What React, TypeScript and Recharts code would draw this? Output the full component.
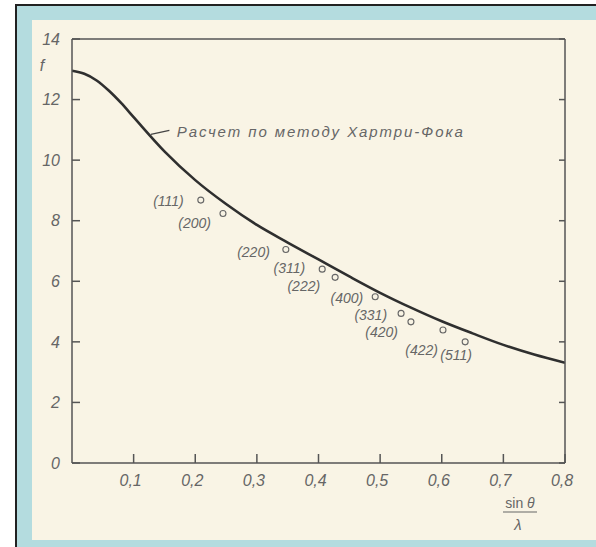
import React from 'react';
import {
  ComposedChart,
  Line,
  Scatter,
  XAxis,
  YAxis,
  ReferenceLine,
  ReferenceDot,
} from 'recharts';

// Hartree-Fock curve
const CURVE_S = [0, 0.02, 0.04, 0.06, 0.08, 0.1, 0.15, 0.2, 0.25, 0.3, 0.35, 0.4, 0.45, 0.5, 0.55, 0.6, 0.65, 0.7, 0.75, 0.8];
const CURVE_F = [12.95, 12.85, 12.63, 12.29, 11.88, 11.42, 10.29, 9.34, 8.55, 7.86, 7.28, 6.72, 6.16, 5.62, 5.13, 4.68, 4.28, 3.9, 3.58, 3.31];

// measured reflections
const HKL = ['(111)', '(200)', '(220)', '(311)', '(222)', '(400)', '(331)', '(420)', '(422)', '(511)'];
const POINT_S = [0.209, 0.245, 0.347, 0.406, 0.427, 0.492, 0.534, 0.55, 0.602, 0.638];
const POINT_F = [8.68, 8.24, 7.05, 6.4, 6.13, 5.49, 4.94, 4.66, 4.39, 4.0];

const X_TICKS = [0.1, 0.2, 0.3, 0.4, 0.5, 0.6, 0.7, 0.8];
const Y_TICKS = [0, 2, 4, 6, 8, 10, 12, 14];

const CURVE_LABEL = 'Расчет по методу Хартри-Фока';

// label placement relative to each circle (px)
const LABEL_POS: Record<string, { dx: number; dy: number; anchor: string }> = {
  '(111)': { dx: -17, dy: 1, anchor: 'end' },
  '(200)': { dx: -12, dy: 10, anchor: 'end' },
  '(220)': { dx: -16, dy: 2, anchor: 'end' },
  '(311)': { dx: -17, dy: -1, anchor: 'end' },
  '(222)': { dx: -15, dy: 9, anchor: 'end' },
  '(400)': { dx: -12, dy: 1, anchor: 'end' },
  '(331)': { dx: -14, dy: 2, anchor: 'end' },
  '(420)': { dx: -13, dy: 10, anchor: 'end' },
  '(422)': { dx: -5, dy: 20, anchor: 'end' },
  '(511)': { dx: -9, dy: 13, anchor: 'middle' },
};

const curveData = CURVE_S.map((s, i) => ({ s, f: CURVE_F[i] }));
const pointData = POINT_S.map((s, i) => ({ s, f: POINT_F[i], hkl: HKL[i] }));

const FRAME = '#555';
const INK = '#666';
const FONT = 'Liberation Sans';
const fmt = (v: number) => String(v).replace('.', ',');

// inward ticks, drawn together with their labels
const BottomTick = ({ x, y, payload }: any) => (
  <g>
    <line x1={x} x2={x} y1={y - 12} y2={y - 21} stroke={FRAME} strokeWidth={1.5} />
    <text x={x - 3} y={y} dy="0.71em" textAnchor="middle" fill={INK} fontSize={16} fontStyle="italic" fontFamily={FONT}>
      {fmt(payload.value)}
    </text>
  </g>
);

const LeftTick = ({ x, y, payload }: any) => (
  <g>
    <line x1={x + 12} x2={x + 20} y1={y} y2={y} stroke={FRAME} strokeWidth={1.5} />
    <text x={x} y={y} dy="0.36em" textAnchor="end" fill={INK} fontSize={16} fontStyle="italic" fontFamily={FONT}>
      {payload.value}
    </text>
  </g>
);

const TopTick = ({ x, y }: any) => <line x1={x} x2={x} y1={y} y2={y + 9} stroke={FRAME} strokeWidth={1.5} />;

const RightTick = ({ x, y }: any) => <line x1={x} x2={x - 6} y1={y} y2={y} stroke={FRAME} strokeWidth={1.5} />;

const PointShape = (props: any) => {
  const { cx, cy, payload } = props;
  const pos = LABEL_POS[payload.hkl];
  return (
    <g>
      <circle cx={cx} cy={cy} r={3} fill="#f8f3e4" stroke="#666" strokeWidth={1.1} />
      <text
        x={cx + pos.dx}
        y={cy + pos.dy}
        dy="0.36em"
        textAnchor={pos.anchor}
        fill={INK}
        fontSize={14}
        fontStyle="italic"
        fontFamily={FONT}
      >
        {payload.hkl}
      </text>
    </g>
  );
};

export default function App() {
  return (
    <div style={{ position: 'absolute', left: 0, top: 0, width: 596, height: 547, background: '#fff', overflow: 'hidden' }}>
      <div
        style={{
          position: 'absolute',
          left: 15,
          top: 4,
          right: -4,
          bottom: -4,
          background: '#b4dcdf',
          borderLeft: '2px solid #222',
          borderTop: '2px solid #222',
        }}
      />
      <div style={{ position: 'absolute', left: 32, top: 20, right: 0, bottom: 7, background: '#f9f4e5' }} />
      <div style={{ position: 'absolute', left: 0, top: 0 }}>
        <ComposedChart width={596} height={547} margin={{ top: 29, right: 21, bottom: 0, left: 0 }}>
          <XAxis
            xAxisId="b"
            type="number"
            dataKey="s"
            domain={[0, 0.8]}
            ticks={X_TICKS}
            orientation="bottom"
            height={84}
            tickSize={0}
            tickLine={false}
            tickMargin={12}
            tick={<BottomTick />}
            stroke={FRAME}
            strokeWidth={1.5}
            allowDataOverflow
            label={{
              content: (p: any) => {
                const vb = p.viewBox;
                const cx = vb.x + 448;
                return (
                  <g fill={INK} fontFamily={FONT}>
                    <text x={cx} y={vb.y + 45} textAnchor="middle" fontSize={14}>
                      sin <tspan fontStyle="italic">θ</tspan>
                    </text>
                    <line x1={cx - 17} x2={cx + 17} y1={vb.y + 49} y2={vb.y + 49} stroke={INK} strokeWidth={1.2} />
                    <text x={cx - 2} y={vb.y + 67} textAnchor="middle" fontSize={15} fontStyle="italic">
                      λ
                    </text>
                  </g>
                );
              },
            }}
          />
          <XAxis
            xAxisId="t"
            type="number"
            domain={[0, 0.8]}
            ticks={X_TICKS}
            orientation="top"
            height={10}
            tickSize={0}
            tickLine={false}
            tickMargin={0}
            tick={<TopTick />}
            stroke={FRAME}
            strokeWidth={1.5}
            allowDataOverflow
          />
          <YAxis
            yAxisId="l"
            type="number"
            dataKey="f"
            domain={[0, 14]}
            ticks={Y_TICKS}
            width={72}
            tickSize={0}
            tickLine={false}
            tickMargin={12}
            tick={<LeftTick />}
            stroke={FRAME}
            strokeWidth={1.5}
            allowDataOverflow
            label={{
              content: (p: any) => {
                const vb = p.viewBox;
                return (
                  <text x={vb.x + 42} y={vb.y + 32} textAnchor="middle" fill={INK} fontSize={16} fontStyle="italic" fontFamily={FONT}>
                    f
                  </text>
                );
              },
            }}
          />
          <YAxis
            yAxisId="r"
            type="number"
            domain={[0, 14]}
            ticks={Y_TICKS}
            orientation="right"
            width={10}
            tickSize={0}
            tickLine={false}
            tickMargin={0}
            tick={<RightTick />}
            stroke={FRAME}
            strokeWidth={1.5}
            allowDataOverflow
          />
          <Line
            xAxisId="b"
            yAxisId="l"
            data={curveData}
            dataKey="f"
            type="monotone"
            stroke="#2f2f2f"
            strokeWidth={2.6}
            dot={false}
            activeDot={false}
            isAnimationActive={false}
          />
          <Scatter
            xAxisId="b"
            yAxisId="l"
            data={pointData}
            dataKey="f"
            shape={<PointShape />}
            isAnimationActive={false}
          />
          <ReferenceLine
            xAxisId="b"
            yAxisId="l"
            segment={[
              { x: 0.128, y: 10.85 },
              { x: 0.158, y: 10.98 },
            ]}
            stroke="#444"
            strokeWidth={1.3}
          />
          <ReferenceDot
            xAxisId="b"
            yAxisId="l"
            x={0.17}
            y={10.95}
            r={0}
            label={{
              content: (p: any) => {
                const vb = p.viewBox;
                return (
                  <text
                    x={vb.x}
                    y={vb.y}
                    dy="0.36em"
                    textLength={286}
                    lengthAdjust="spacing"
                    fill={INK}
                    fontSize={15}
                    fontStyle="italic"
                    fontFamily={FONT}
                  >
                    {CURVE_LABEL}
                  </text>
                );
              },
            }}
          />
        </ComposedChart>
      </div>
    </div>
  );
}
